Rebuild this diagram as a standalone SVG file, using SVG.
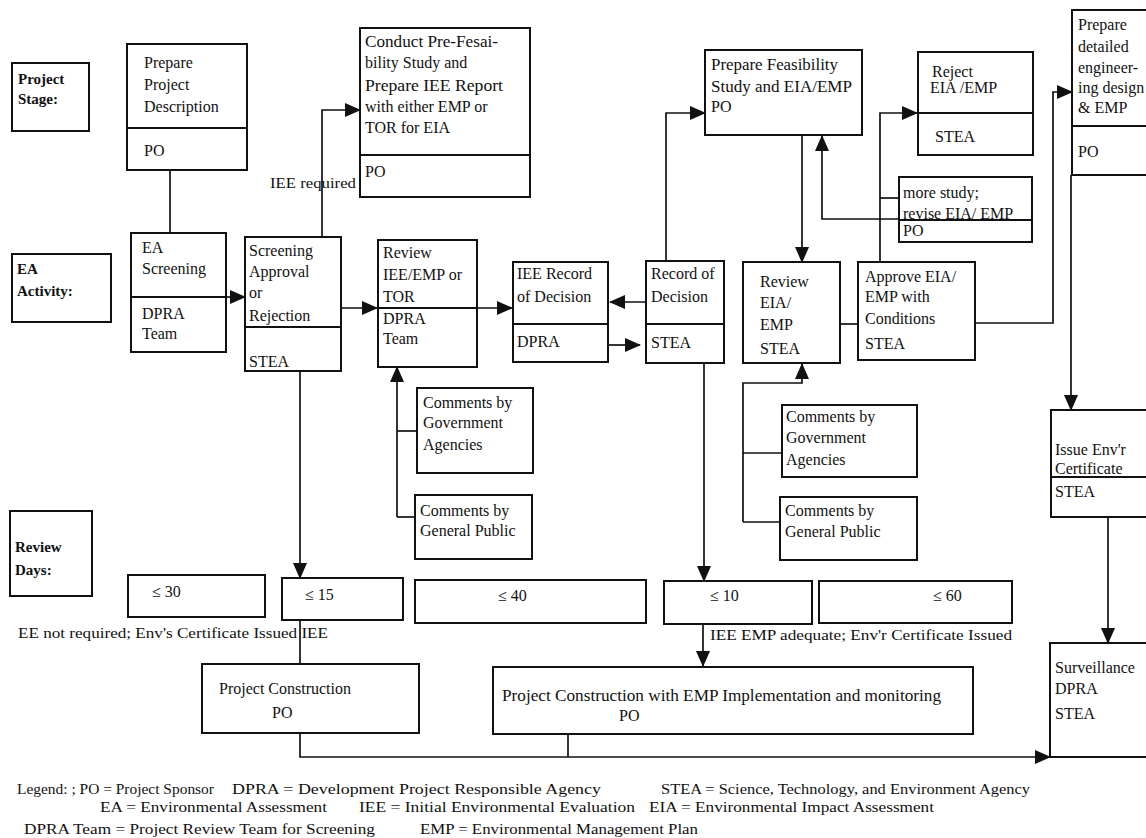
<svg xmlns="http://www.w3.org/2000/svg" width="1146" height="838" viewBox="0 0 1146 838">
<defs>
<style>
.b{fill:#fff;stroke:#111;stroke-width:2}
.d{stroke:#111;stroke-width:2}
.c{fill:none;stroke:#111;stroke-width:1.7}
.t{font-family:"Liberation Serif","Times New Roman",serif;font-size:16px;fill:#111}
.l{font-family:"Liberation Serif","Times New Roman",serif;font-size:15px;font-weight:bold;fill:#111}
.g{font-family:"Liberation Serif","Times New Roman",serif;font-size:15px;fill:#111}
</style>
<marker id="a" markerUnits="userSpaceOnUse" markerWidth="16" markerHeight="14" refX="15" refY="7" orient="auto">
<path d="M0,0 L16,7 L0,14 Z" fill="#111"/>
</marker>
</defs>
<rect width="1146" height="838" fill="#fff"/>

<g id="connectors">
<path class="c" d="M170,170 V233"/>
<path class="c" d="M226,297 H245" marker-end="url(#a)"/>
<path class="c" d="M322,237 V110 H360" marker-end="url(#a)"/>
<path class="c" d="M341,308 H377" marker-end="url(#a)"/>
<path class="c" d="M477,308 H512" marker-end="url(#a)"/>
<path class="c" d="M646,302 H610" marker-end="url(#a)"/>
<path class="c" d="M609,345 H640" marker-end="url(#a)"/>
<path class="c" d="M666,261 V113 H705" marker-end="url(#a)"/>
<path class="c" d="M704,363 V581" marker-end="url(#a)"/>
<path class="c" d="M300,371 V578" marker-end="url(#a)"/>
<path class="c" d="M300,620 V664"/>
<path class="c" d="M703,624 V666" marker-end="url(#a)"/>
<path class="c" d="M802,135 V262" marker-end="url(#a)"/>
<path class="c" d="M880,262 V113 H917" marker-end="url(#a)"/>
<path class="c" d="M880,198 H899"/>
<path class="c" d="M899,219 H822 V136" marker-end="url(#a)"/>
<path class="c" d="M840,324 H858"/>
<path class="c" d="M975,323 H1053 V92 H1072" marker-end="url(#a)"/>
<path class="c" d="M1071,175 V410" marker-end="url(#a)"/>
<path class="c" d="M1108,517 V643" marker-end="url(#a)"/>
<path class="c" d="M397,517 V367" marker-end="url(#a)"/>
<path class="c" d="M397,431 H417"/>
<path class="c" d="M397,517 H415"/>
<path class="c" d="M743,522 V383 H802 V364" marker-end="url(#a)"/>
<path class="c" d="M743,453 H782"/>
<path class="c" d="M743,522 H780"/>
<path class="c" d="M300,733 V757 H1050" marker-end="url(#a)"/>
<path class="c" d="M568,734 V757"/>
</g>

<g id="label-stage">
<rect class="b" x="12" y="63" width="77" height="68"/>
<text class="l" x="18" y="84">Project</text>
<text class="l" x="18" y="104">Stage:</text>
</g>
<g id="label-activity">
<rect class="b" x="12" y="254" width="99" height="68"/>
<text class="l" x="17" y="274">EA</text>
<text class="l" x="17" y="296">Activity:</text>
</g>
<g id="label-days">
<rect class="b" x="10" y="511" width="82" height="85"/>
<text class="l" x="15" y="552">Review</text>
<text class="l" x="15" y="575">Days:</text>
</g>

<g id="prepare-project">
<rect class="b" x="127" y="44" width="120" height="126"/>
<line class="d" x1="127" y1="128" x2="247" y2="128"/>
<text class="t" x="144" y="68">Prepare</text>
<text class="t" x="144" y="90">Project</text>
<text class="t" x="144" y="112">Description</text>
<text class="t" x="144" y="156">PO</text>
</g>

<g id="conduct-prefeasibility">
<rect class="b" x="360" y="28" width="170" height="169"/>
<line class="d" x1="360" y1="155" x2="530" y2="155"/>
<text class="t" x="365" y="47" textLength="133" lengthAdjust="spacingAndGlyphs">Conduct Pre-Fesai-</text>
<text class="t" x="365" y="68">bility Study and</text>
<text class="t" x="365" y="91" textLength="138" lengthAdjust="spacingAndGlyphs">Prepare  IEE Report</text>
<text class="t" x="365" y="112">with either EMP or</text>
<text class="t" x="365" y="133">TOR for EIA</text>
<text class="t" x="365" y="177">PO</text>
</g>

<g id="prepare-feasibility">
<rect class="b" x="705" y="50" width="157" height="85"/>
<text class="t" x="711" y="70" textLength="127" lengthAdjust="spacingAndGlyphs">Prepare Feasibility</text>
<text class="t" x="711" y="92" textLength="141" lengthAdjust="spacingAndGlyphs">Study and EIA/EMP</text>
<text class="t" x="711" y="112">PO</text>
</g>

<g id="reject">
<rect class="b" x="918" y="52" width="115" height="103"/>
<line class="d" x1="918" y1="113" x2="1033" y2="113"/>
<text class="t" x="932" y="77">Reject</text>
<text class="t" x="930" y="93">EIA /EMP</text>
<text class="t" x="935" y="142">STEA</text>
</g>

<g id="prepare-detailed">
<rect class="b" x="1072" y="10" width="90" height="165"/>
<line class="d" x1="1072" y1="126" x2="1146" y2="126"/>
<text class="t" x="1078" y="30">Prepare</text>
<text class="t" x="1078" y="52">detailed</text>
<text class="t" x="1078" y="73">engineer-</text>
<text class="t" x="1078" y="93">ing design</text>
<text class="t" x="1078" y="113">&amp; EMP</text>
<text class="t" x="1078" y="157">PO</text>
</g>

<g id="ea-screening">
<rect class="b" x="131" y="233" width="95" height="119"/>
<line class="d" x1="131" y1="297" x2="226" y2="297"/>
<text class="t" x="142" y="253">EA</text>
<text class="t" x="142" y="274">Screening</text>
<text class="t" x="142" y="319">DPRA</text>
<text class="t" x="142" y="339">Team</text>
</g>

<g id="screening-approval">
<rect class="b" x="245" y="237" width="96" height="134"/>
<line class="d" x1="245" y1="327" x2="341" y2="327"/>
<text class="t" x="249" y="256">Screening</text>
<text class="t" x="249" y="277">Approval</text>
<text class="t" x="249" y="298">or</text>
<text class="t" x="249" y="321">Rejection</text>
<text class="t" x="249" y="367">STEA</text>
</g>

<text class="g" x="270" y="188" textLength="86" lengthAdjust="spacingAndGlyphs">IEE required</text>

<g id="review-iee">
<rect class="b" x="378" y="240" width="99" height="127"/>
<line class="d" x1="378" y1="308" x2="477" y2="308"/>
<text class="t" x="383" y="258">Review</text>
<text class="t" x="383" y="280">IEE/EMP or</text>
<text class="t" x="383" y="302">TOR</text>
<text class="t" x="383" y="324">DPRA</text>
<text class="t" x="383" y="344">Team</text>
</g>

<g id="iee-record">
<rect class="b" x="513" y="262" width="95" height="100"/>
<line class="d" x1="513" y1="324" x2="608" y2="324"/>
<text class="t" x="517" y="279">IEE Record</text>
<text class="t" x="517" y="302">of Decision</text>
<text class="t" x="517" y="347">DPRA</text>
</g>

<g id="record-decision">
<rect class="b" x="646" y="261" width="78" height="102"/>
<line class="d" x1="646" y1="324" x2="724" y2="324"/>
<text class="t" x="651" y="279">Record of</text>
<text class="t" x="651" y="302">Decision</text>
<text class="t" x="651" y="348">STEA</text>
</g>

<g id="review-eia">
<rect class="b" x="743" y="262" width="97" height="101"/>
<text class="t" x="760" y="287">Review</text>
<text class="t" x="760" y="308">EIA/</text>
<text class="t" x="760" y="330">EMP</text>
<text class="t" x="760" y="354">STEA</text>
</g>

<g id="more-study">
<rect class="b" x="899" y="177" width="133" height="65"/>
<line class="d" x1="899" y1="220" x2="1032" y2="220"/>
<text class="t" x="903" y="198">more study;</text>
<text class="t" x="903" y="219">revise EIA/ EMP</text>
<text class="t" x="903" y="236">PO</text>
</g>

<g id="approve-eia">
<rect class="b" x="858" y="262" width="117" height="98"/>
<text class="t" x="865" y="282">Approve EIA/</text>
<text class="t" x="865" y="302">EMP with</text>
<text class="t" x="865" y="324">Conditions</text>
<text class="t" x="865" y="349">STEA</text>
</g>

<g id="comments-gov-1">
<rect class="b" x="417" y="388" width="116" height="85"/>
<text class="t" x="423" y="408">Comments by</text>
<text class="t" x="423" y="428">Government</text>
<text class="t" x="423" y="450">Agencies</text>
</g>
<g id="comments-public-1">
<rect class="b" x="415" y="495" width="117" height="64"/>
<text class="t" x="420" y="516">Comments by</text>
<text class="t" x="420" y="536">General Public</text>
</g>
<g id="comments-gov-2">
<rect class="b" x="782" y="405" width="135" height="72"/>
<text class="t" x="786" y="422">Comments by</text>
<text class="t" x="786" y="443">Government</text>
<text class="t" x="786" y="465">Agencies</text>
</g>
<g id="comments-public-2">
<rect class="b" x="780" y="497" width="137" height="63"/>
<text class="t" x="785" y="516">Comments by</text>
<text class="t" x="785" y="537">General Public</text>
</g>

<g id="issue-certificate">
<rect class="b" x="1051" y="410" width="110" height="107"/>
<line class="d" x1="1051" y1="477" x2="1146" y2="477"/>
<text class="t" x="1055" y="455">Issue Env'r</text>
<text class="t" x="1055" y="474">Certificate</text>
<text class="t" x="1055" y="497">STEA</text>
</g>

<g id="surveillance">
<rect class="b" x="1050" y="643" width="110" height="114"/>
<text class="t" x="1055" y="673">Surveillance</text>
<text class="t" x="1055" y="694">DPRA</text>
<text class="t" x="1055" y="719">STEA</text>
</g>

<g id="days-30">
<rect class="b" x="128" y="575" width="137" height="42"/>
<text class="t" x="152" y="597">≤ 30</text>
</g>
<g id="days-15">
<rect class="b" x="282" y="578" width="121" height="42"/>
<text class="t" x="305" y="600">≤ 15</text>
</g>
<g id="days-40">
<rect class="b" x="415" y="580" width="231" height="43"/>
<text class="t" x="498" y="601">≤ 40</text>
</g>
<g id="days-10">
<rect class="b" x="664" y="581" width="148" height="43"/>
<text class="t" x="710" y="601">≤ 10</text>
</g>
<g id="days-60">
<rect class="b" x="819" y="581" width="193" height="42"/>
<text class="t" x="933" y="601">≤ 60</text>
</g>

<text class="g" x="18" y="638" textLength="310" lengthAdjust="spacingAndGlyphs">EE not required; Env's Certificate Issued IEE</text>
<text class="g" x="710" y="640" textLength="302" lengthAdjust="spacingAndGlyphs">IEE EMP adequate; Env'r Certificate Issued</text>

<g id="project-construction">
<rect class="b" x="202" y="664" width="217" height="69"/>
<text class="t" x="219" y="694">Project Construction</text>
<text class="t" x="272" y="718">PO</text>
</g>
<g id="project-construction-emp">
<rect class="b" x="493" y="667" width="480" height="67"/>
<text class="t" x="502" y="701" textLength="439" lengthAdjust="spacingAndGlyphs">Project Construction with EMP Implementation and monitoring</text>
<text class="t" x="619" y="721">PO</text>
</g>

<g id="legend">
<text class="g" x="17" y="794" textLength="197" lengthAdjust="spacingAndGlyphs">Legend: ; PO = Project Sponsor</text>
<text class="g" x="232" y="794" textLength="369" lengthAdjust="spacingAndGlyphs">DPRA = Development Project Responsible Agency</text>
<text class="g" x="661" y="794" textLength="369" lengthAdjust="spacingAndGlyphs">STEA = Science, Technology, and Environment Agency</text>
<text class="g" x="100" y="812" textLength="227" lengthAdjust="spacingAndGlyphs">EA = Environmental Assessment</text>
<text class="g" x="359" y="812" textLength="276" lengthAdjust="spacingAndGlyphs">IEE = Initial Environmental Evaluation</text>
<text class="g" x="649" y="812" textLength="285" lengthAdjust="spacingAndGlyphs">EIA = Environmental Impact Assessment</text>
<text class="g" x="24" y="834" textLength="351" lengthAdjust="spacingAndGlyphs">DPRA Team = Project Review Team for Screening</text>
<text class="g" x="420" y="834" textLength="278" lengthAdjust="spacingAndGlyphs">EMP = Environmental Management Plan</text>
</g>
</svg>
